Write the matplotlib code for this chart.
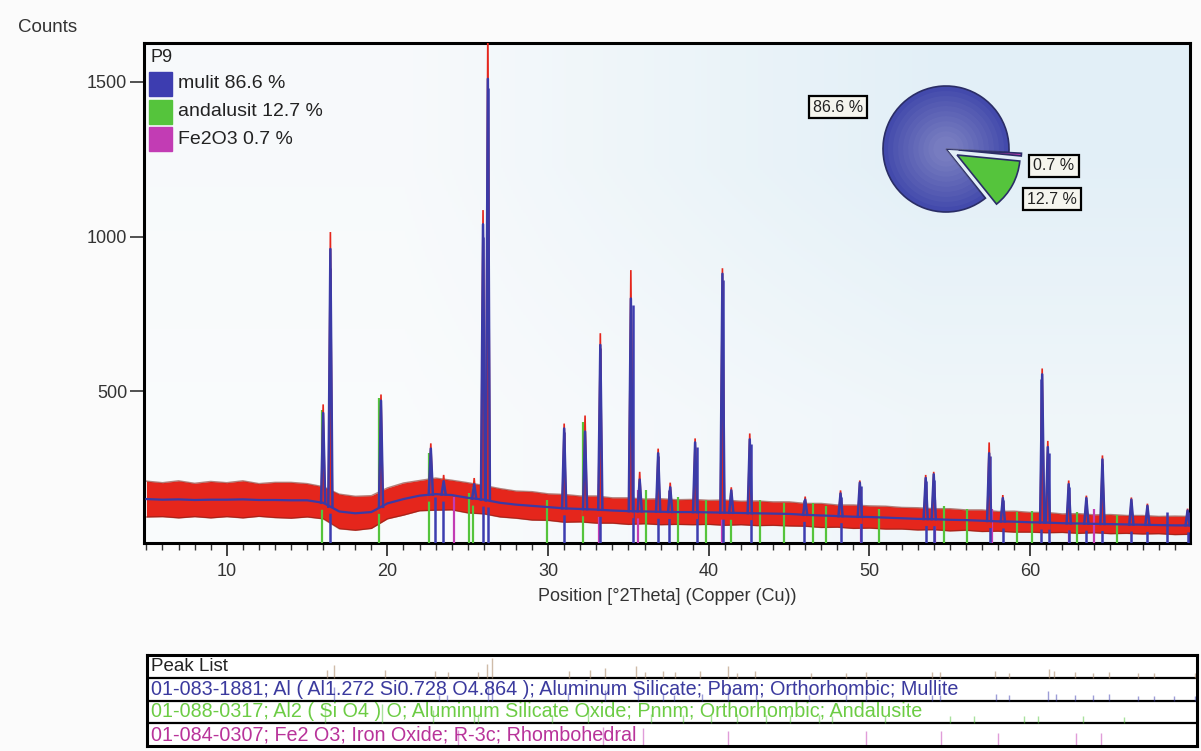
import numpy as np
import matplotlib.pyplot as plt
from matplotlib.patches import Rectangle
import matplotlib.transforms as mtransforms

plt.rcParams['font.family'] = ['Liberation Sans', 'DejaVu Sans']

# background of the scan, read every whole degree 2theta (counts) and noise half-width
bg_pos = list(range(5, 71))
bg_level = [152, 150, 151, 149, 150, 150, 151, 149, 149, 148, 148,
            140, 112, 106, 110, 138, 152, 163, 168, 165, 156, 150,
            140, 134, 130, 126, 122, 120, 118, 115, 113, 112, 111,
            110, 110, 109, 108, 107, 106, 105, 104, 101, 99, 97,
            95, 94, 92, 90, 88, 87, 85, 84, 82, 80, 79,
            77, 76, 74, 73, 72, 71, 70, 69, 68, 67, 67]
bg_spread = [58, 55, 60, 54, 59, 55, 60, 53, 57, 58, 54,
             52, 56, 55, 53, 50, 52, 49, 52, 48, 49, 46,
             46, 44, 46, 43, 45, 42, 44, 41, 43, 40, 42,
             40, 41, 39, 41, 38, 40, 38, 39, 37, 39, 36,
             38, 36, 37, 35, 36, 34, 36, 33, 35, 32, 34,
             32, 33, 30, 32, 29, 31, 29, 30, 28, 30, 29]

# peaks: position, observed top, calculated top
peak_pos = [16.0, 16.45, 19.6, 22.7, 23.5, 25.4, 25.95, 26.25, 31.0, 32.3, 33.25,
            35.15, 35.7, 36.85, 37.6, 39.15, 40.85, 41.4, 42.55, 46.0, 48.2, 49.4,
            53.5, 54.0, 57.45, 58.3, 60.75, 61.1, 62.4, 63.5, 64.5, 66.3, 67.3, 69.8]
peak_obs = [458, 1015, 490, 332, 230, 220, 1086, 1700, 396, 422, 688,
            892, 240, 315, 205, 348, 898, 190, 364, 160, 180, 212,
            230, 240, 335, 165, 574, 340, 212, 163, 293, 157, 137, 121]
peak_calc = [430, 960, 470, 315, 210, 200, 1040, 1510, 380, 370, 650,
             800, 215, 300, 190, 335, 880, 180, 345, 150, 170, 205,
             220, 232, 300, 155, 555, 320, 200, 155, 280, 150, 130, 115]

# reference sticks for each phase (position, top in counts)
mullite_pos = [16.43, 22.95, 23.45, 25.97, 26.27, 30.96, 33.22, 35.27, 36.87, 37.55,
               39.27, 40.87, 42.6, 45.9, 48.2, 49.45, 53.5, 54.0, 57.5, 58.3,
               60.7, 61.2, 62.4, 63.5, 64.5, 66.3, 67.3, 68.5, 69.8]
mullite_top = [900, 160, 170, 1000, 1480, 370, 640, 780, 290, 180,
               320, 860, 330, 150, 160, 195, 210, 215, 290, 150,
               540, 300, 190, 150, 265, 140, 120, 110, 110]
andal_pos = [15.9, 19.45, 22.6, 25.1, 25.35, 29.95, 32.2, 36.1, 38.1, 39.8, 41.4,
             43.2, 44.7, 46.5, 47.3, 50.6, 54.65, 56.1, 59.2, 60.1, 62.9, 65.4]
andal_top = [440, 480, 300, 170, 190, 150, 400, 180, 160, 150, 170,
             150, 140, 140, 130, 120, 130, 120, 110, 115, 110, 100]
fe_pos = [24.15, 33.15, 35.6, 40.85, 49.45, 54.05, 57.6, 62.45, 64.0]
fe_top = [160, 200, 180, 150, 140, 150, 120, 120, 120]

phases = ['mulit 86.6 %', 'andalusit 12.7 %', 'Fe2O3 0.7 %']
fractions = [86.6, 12.7, 0.7]
cards = ['01-083-1881; Al ( Al1.272 Si0.728 O4.864 ); Aluminum Silicate; Pbam; Orthorhombic; Mullite',
         '01-088-0317; Al2 ( Si O4 ) O; Aluminum Silicate Oxide; Pnnm; Orthorhombic; Andalusite',
         '01-084-0307; Fe2 O3; Iron Oxide; R-3c; Rhombohedral']

c_obs = '#e5261c'
c_calc = '#3b3aa6'
c_mul = '#3d3db0'
c_and = '#55c43c'
c_fe = '#c23cb4'
W, H = 1201, 751
xmin, xmax = 4.85, 69.95
ymin, ymax = 10, 1626

fig = plt.figure(figsize=(W / 100, H / 100), dpi=100, facecolor='#fbfbfb')
ax = fig.add_axes([144 / W, 1 - 543 / H, 1046 / W, 500 / H])

# soft bluish background of the plot area
grad = np.array([[[0.97, 0.98, 0.985], [0.89, 0.94, 0.97]],
                 [[0.98, 0.985, 0.99], [0.94, 0.965, 0.98]]])
ax.imshow(grad, extent=[0, 1, 0, 1], transform=ax.transAxes, aspect='auto',
          interpolation='bilinear', zorder=0)

# noisy background band of the measured scan
lo = np.array(bg_level) - np.array(bg_spread)
hi = np.array(bg_level) + np.array(bg_spread)
ax.fill_between(bg_pos, lo, hi, color=c_obs, lw=0, zorder=2)
ax.plot(bg_pos, hi, color='#7a2016', lw=1.0, alpha=0.55, zorder=2)
ax.plot(bg_pos, lo, color='#7a2016', lw=1.0, alpha=0.55, zorder=2)

# reference sticks
ax.vlines(andal_pos, ymin, andal_top, colors=c_and, lw=1.6, zorder=3)
ax.vlines(fe_pos, ymin, fe_top, colors=c_fe, lw=1.6, zorder=3)
ax.vlines(mullite_pos, ymin, mullite_top, colors=c_mul, lw=1.8, zorder=3)

# observed and calculated peaks
hw = 0.13
for p, yo, yc in zip(peak_pos, peak_obs, peak_calc):
    base = np.interp(p, bg_pos, bg_level)
    ax.fill([p - hw, p, p + hw], [base - 20, yo, base - 20], color=c_obs, lw=1.2, zorder=4)
    ax.plot([p - hw, p, p + hw], [base, yc, base], color=c_calc, lw=1.8, zorder=5)
ax.plot(bg_pos, bg_level, color=c_calc, lw=1.6, zorder=5)

ax.set_xlim(xmin, xmax)
ax.set_ylim(ymin, ymax)
ax.set_xticks(range(10, 70, 10))
ax.set_xticks(range(5, 70), minor=True)
ax.set_yticks([500, 1000, 1500])
ax.tick_params(axis='x', which='major', length=9.5, width=1.3, pad=5, labelsize=13, colors='#333333')
ax.tick_params(axis='x', which='minor', length=5, width=1.0, colors='#333333')
ax.tick_params(axis='y', which='major', length=10, width=1.2, pad=2, labelsize=13, colors='#333333')
for s in ax.spines.values():
    s.set_linewidth(2.2)
    s.set_color('black')
ax.set_xlabel('Position [°2Theta] (Copper (Cu))', fontsize=13, color='#333333', labelpad=6)
fig.text(18 / W, 1 - 28 / H, 'Counts', fontsize=13.5, color='#333333', va='center')

# phase legend in the upper left corner
ax.text(0.006, 0.972, 'P9', transform=ax.transAxes, fontsize=13, va='center', color='#222222', zorder=6)
for i, (lab, col) in enumerate(zip(phases, [c_mul, c_and, c_fe])):
    yc = 1 - (84 + 27.5 * i) / H
    fig.patches.append(Rectangle((149 / W, yc - 12 / H), 23 / W, 24 / H, color=col,
                                 transform=fig.transFigure, figure=fig, zorder=6))
    fig.text(178 / W, yc, lab, fontsize=14, va='center', color='#222222', zorder=6)

# quantification pie, with a light centre to mimic its shading
pc = (946, 149)
pr = 63
pax = fig.add_axes([(pc[0] - 100) / W, 1 - (pc[1] + 100) / H, 200 / W, 200 / H])
pie_vals = [fractions[2], fractions[1], fractions[0]]
pax.pie(pie_vals, colors=[c_fe, c_and, '#434aac'],
        startangle=-3, counterclock=False, explode=[0.2, 0.2, 0],
        wedgeprops=dict(edgecolor='#2a2d66', linewidth=1.2))
for r in [0.92, 0.84, 0.76, 0.68, 0.6, 0.52, 0.44, 0.36, 0.28, 0.2]:
    pax.pie(pie_vals, colors=['none', 'none', 'white'], radius=r,
            startangle=-3, counterclock=False, explode=[0.2, 0.2, 0],
            wedgeprops=dict(linewidth=0, alpha=0.035))
lim = 100 / pr
pax.set_xlim(-lim, lim)
pax.set_ylim(-lim, lim)
pax.set_aspect('equal')
pax.axis('off')
for txt, (px, py) in zip(['86.6 %', '0.7 %', '12.7 %'], [(838, 107), (1054, 166), (1052, 199)]):
    fig.text(px / W, 1 - py / H, txt, fontsize=11.5, ha='center', va='center', color='#222222',
             bbox=dict(boxstyle='square,pad=0.25', fc='#f5f5ee', ec='black', lw=1.6))

# peak list panel
lax = fig.add_axes([147 / W, 1 - 746 / H, 1050 / W, 91 / H])
lax.set_xlim(xmin, xmax)
lax.set_ylim(0, 4)
lax.set_facecolor('white')
lax.set_xticks([])
lax.set_yticks([])
for s in lax.spines.values():
    s.set_linewidth(2.2)
for yy in [1, 2, 3]:
    lax.axhline(yy, color='black', lw=1.6)

obs_max = max(peak_obs)
lax.vlines(peak_pos, 3, [3 + 0.15 + 0.7 * v / obs_max for v in peak_obs], colors='#b09070', lw=1, alpha=0.6)
for row, (pos, top, col) in enumerate([(mullite_pos, mullite_top, c_mul),
                                       (andal_pos, andal_top, c_and),
                                       (fe_pos, fe_top, c_fe)]):
    y0 = 2 - row
    tmax = max(top)
    lax.vlines(pos, y0, [y0 + 0.15 + 0.7 * v / tmax for v in top], colors=col, lw=1, alpha=0.5)

trans = mtransforms.blended_transform_factory(lax.transAxes, lax.transData)
lax.text(0.004, 3.5, 'Peak List', transform=trans, fontsize=13.5, va='center', color='#222222')
for row, (txt, col) in enumerate(zip(cards, ['#3b3a9e', '#6ccc44', '#b8339a'])):
    lax.text(0.004, 2.5 - row, txt, transform=trans, fontsize=14.2, va='center', color=col)

fig.savefig('out.png', dpi=100, facecolor=fig.get_facecolor())
